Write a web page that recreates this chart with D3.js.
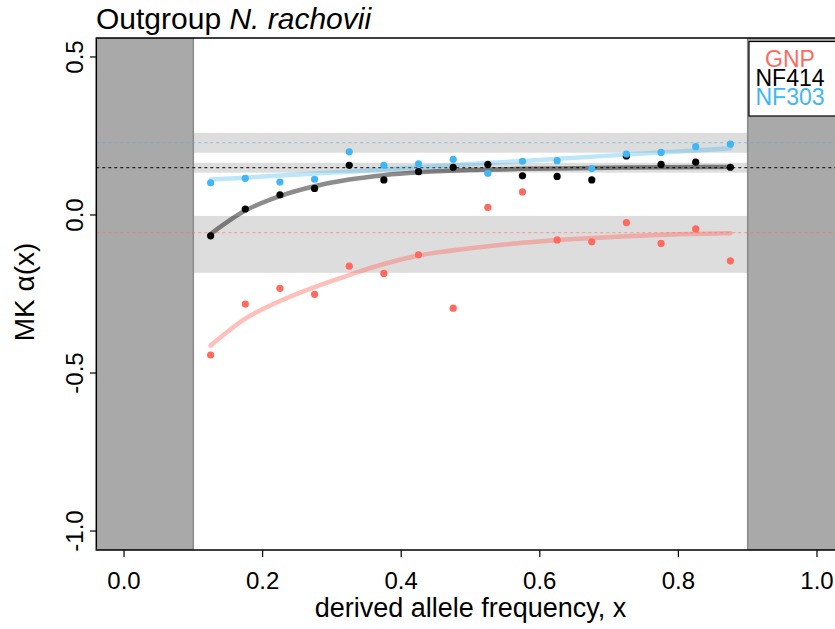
<!DOCTYPE html>
<html>
<head>
<meta charset="utf-8">
<script src="https://cdn.jsdelivr.net/npm/d3@7"></script>
<style>
  body { margin: 0; background: #fff; }
  svg { display: block; font-family: "Liberation Sans", Arial, sans-serif; }
</style>
</head>
<body>
<div id="chart"></div>
<script>
// derived allele frequency bins
const freqs = [0.125, 0.175, 0.225, 0.275, 0.325, 0.375, 0.425, 0.475,
               0.525, 0.575, 0.625, 0.675, 0.725, 0.775, 0.825, 0.875];

// MK alpha per bin
const gnpVals   = [-0.443, -0.282, -0.232, -0.251, -0.162, -0.185, -0.126, -0.295,
                    0.024,  0.073, -0.079, -0.085, -0.024, -0.090, -0.044, -0.145];
const nf414Vals = [-0.066,  0.019,  0.064,  0.084,  0.157,  0.111,  0.137,  0.151,
                    0.160,  0.124,  0.122,  0.111,  0.187,  0.160,  0.167,  0.151];
const nf303Vals = [ 0.102,  0.116,  0.104,  0.113,  0.200,  0.157,  0.162,  0.176,
                    0.132,  0.170,  0.172,  0.147,  0.193,  0.198,  0.216,  0.224];

// fitted curves
const fitX     = [0.125, 0.175, 0.225, 0.275, 0.325, 0.375, 0.425, 0.5, 0.575, 0.65, 0.725, 0.8, 0.875];
const gnpFit   = [-0.413, -0.328, -0.272, -0.228, -0.190, -0.155, -0.128, -0.105, -0.088, -0.076, -0.067, -0.061, -0.058];
const nf414Fit = [-0.060, 0.014, 0.060, 0.091, 0.112, 0.126, 0.135, 0.142, 0.146, 0.148, 0.150, 0.151, 0.152];
const nf303Fit = [0.112, 0.118, 0.125, 0.131, 0.137, 0.144, 0.151, 0.161, 0.171, 0.181, 0.191, 0.201, 0.211];

// asymptotic alpha and its CI
const alphaAsym = [-0.056, 0.150, 0.229];
const ciLow     = [-0.183, 0.134, 0.197];
const ciHigh    = [-0.003, 0.165, 0.260];

const groups = ["GNP", "NF414", "NF303"];
const cutoffs = [0.1, 0.9];
const xTicks = [0, 0.2, 0.4, 0.6, 0.8, 1.0];
const yTicks = [0.5, 0, -0.5, -1.0];

const colors = { GNP: "#ff6a5f", NF414: "#000000", NF303: "#41b6f4" };
const fitOpacity = { GNP: 0.43, NF414: 0.45, NF303: 0.35 };

const width = 835, height = 629;
const x = d3.scaleLinear().domain([-0.04, 1.04]).range([96.3, 844.7]);
const y = d3.scaleLinear().domain([-1.06, 0.56]).range([550, 38]);

const svg = d3.select("#chart").append("svg")
  .attr("width", width).attr("height", height);

svg.append("defs").append("clipPath").attr("id", "plotclip")
  .append("rect")
  .attr("x", x(-0.04)).attr("y", y(0.56))
  .attr("width", x(1.04) - x(-0.04)).attr("height", y(-1.06) - y(0.56));

const plot = svg.append("g").attr("clip-path", "url(#plotclip)");

// CI bands
plot.selectAll("rect.band")
  .data(groups)
  .enter()
  .append("rect")
  .attr("class", "band")
  .attr("x", x(cutoffs[0]))
  .attr("width", x(cutoffs[1]) - x(cutoffs[0]))
  .attr("y", (d, i) => y(ciHigh[i]))
  .attr("height", (d, i) => y(ciLow[i]) - y(ciHigh[i]))
  .attr("fill", "#dddddd");

// excluded frequency ranges
plot.append("rect")
  .attr("x", x(-0.04)).attr("y", y(0.56))
  .attr("width", x(cutoffs[0]) - x(-0.04)).attr("height", y(-1.06) - y(0.56))
  .attr("fill", "#a9a9a9").attr("stroke", "#8a8a8a").attr("stroke-width", 1.5);
plot.append("rect")
  .attr("x", x(cutoffs[1])).attr("y", y(0.56))
  .attr("width", x(1.04) - x(cutoffs[1])).attr("height", y(-1.06) - y(0.56))
  .attr("fill", "#a9a9a9").attr("stroke", "#8a8a8a").attr("stroke-width", 1.5);

// asymptote lines
plot.selectAll("line.asym")
  .data(groups)
  .enter()
  .append("line")
  .attr("class", "asym")
  .attr("x1", x(-0.04)).attr("x2", x(1.04))
  .attr("y1", (d, i) => y(alphaAsym[i]))
  .attr("y2", (d, i) => y(alphaAsym[i]))
  .attr("stroke", d => colors[d])
  .attr("stroke-opacity", d => d === "NF414" ? 0.8 : 0.5)
  .attr("stroke-width", 1.3)
  .attr("stroke-dasharray", "3,3");

// fitted curves
const line = d3.line()
  .x(d => x(d[0]))
  .y(d => y(d[1]))
  .curve(d3.curveMonotoneX);

const fits = { GNP: gnpFit, NF414: nf414Fit, NF303: nf303Fit };
groups.forEach(g => {
  plot.append("path")
    .datum(fitX.map((f, i) => [f, fits[g][i]]))
    .attr("d", line)
    .attr("fill", "none")
    .attr("stroke", colors[g])
    .attr("stroke-opacity", fitOpacity[g])
    .attr("stroke-width", 4.5)
    .attr("stroke-linecap", "round");
});

// points
const vals = { GNP: gnpVals, NF414: nf414Vals, NF303: nf303Vals };
groups.forEach(g => {
  plot.append("g")
    .selectAll("circle")
    .data(freqs.map((f, i) => [f, vals[g][i]]))
    .enter()
    .append("circle")
    .attr("cx", d => x(d[0]))
    .attr("cy", d => y(d[1]))
    .attr("r", 3.6)
    .attr("fill", colors[g]);
});

// frame
svg.append("rect")
  .attr("x", x(-0.04)).attr("y", y(0.56))
  .attr("width", x(1.04) - x(-0.04)).attr("height", y(-1.06) - y(0.56))
  .attr("fill", "none").attr("stroke", "#000").attr("stroke-width", 1.5);

// x axis
const xAxis = svg.append("g");
xAxis.selectAll("line")
  .data(xTicks)
  .enter()
  .append("line")
  .attr("x1", d => x(d)).attr("x2", d => x(d))
  .attr("y1", 550).attr("y2", 557)
  .attr("stroke", "#000").attr("stroke-width", 1.2);
xAxis.selectAll("text")
  .data(xTicks)
  .enter()
  .append("text")
  .attr("x", d => x(d)).attr("y", 589)
  .attr("text-anchor", "middle")
  .attr("font-size", 24)
  .text(d => d3.format(".1f")(d));

svg.append("text")
  .attr("x", (x(-0.04) + x(1.04)) / 2).attr("y", 617)
  .attr("text-anchor", "middle")
  .attr("font-size", 27)
  .text("derived allele frequency, x");

// y axis
const yAxis = svg.append("g");
yAxis.selectAll("line")
  .data(yTicks)
  .enter()
  .append("line")
  .attr("x1", 90).attr("x2", 96)
  .attr("y1", d => y(d)).attr("y2", d => y(d))
  .attr("stroke", "#000").attr("stroke-width", 1.2);
yAxis.selectAll("text")
  .data(yTicks)
  .enter()
  .append("text")
  .attr("transform", d => `translate(83,${y(d)}) rotate(-90)`)
  .attr("text-anchor", "middle")
  .attr("font-size", 24)
  .text(d => d3.format(".1f")(d).replace("−", "-"));

svg.append("text")
  .attr("transform", "translate(34,292) rotate(-90)")
  .attr("text-anchor", "middle")
  .attr("font-size", 28)
  .text("MK α(x)");

// title
const title = svg.append("text")
  .attr("x", 96).attr("y", 29)
  .attr("font-size", 30);
title.append("tspan").text("Outgroup ");
title.append("tspan").attr("font-style", "italic").text("N. rachovii");

// legend
svg.append("rect")
  .attr("x", 749).attr("y", 41.5)
  .attr("width", 100).attr("height", 74.5)
  .attr("fill", "#fff").attr("stroke", "#000").attr("stroke-width", 1.2);
svg.append("g")
  .selectAll("text")
  .data(groups)
  .enter()
  .append("text")
  .attr("x", 790).attr("y", (d, i) => 67 + i * 19)
  .attr("text-anchor", "middle")
  .attr("font-size", 23)
  .attr("fill", d => colors[d])
  .text(d => d);
</script>
</body>
</html>
